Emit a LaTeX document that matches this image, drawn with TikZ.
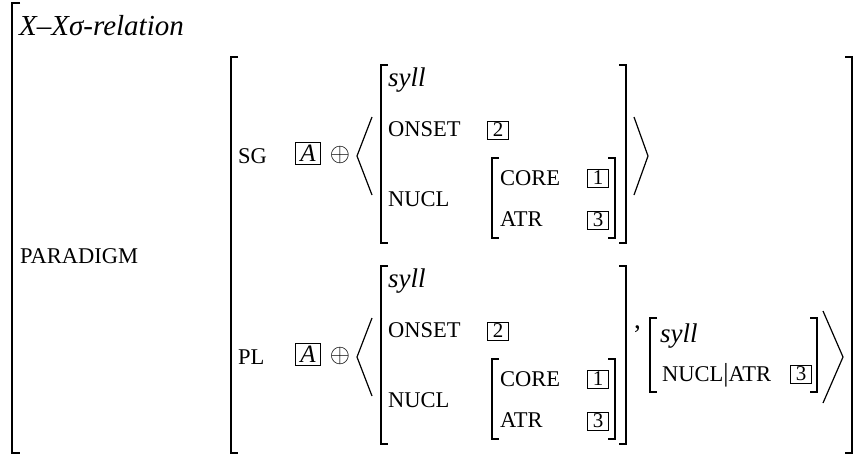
\RequirePackage{fix-cm}
\documentclass[tikz,border=0pt]{standalone}
\usepackage{fontspec}
\setmainfont{Liberation Serif}
\begin{document}
\begin{tikzpicture}[x=1pt,y=-1pt,
    lbl/.style={anchor=base west,inner sep=0},
    feat/.style={lbl,font=\fontsize{22.5}{22.5}\selectfont},
    typ/.style={lbl,font=\fontsize{27}{27}\selectfont\itshape},
    tag/.style={draw,line width=.6,inner sep=0,minimum width=21,minimum height=18,font=\fontsize{21}{21}\selectfont},
    brk/.style={line width=1.5},
    ang/.style={line width=1.2,line join=miter}]
    \useasboundingbox (0,0) rectangle (856,456);
    % outer matrix
    \foreach \x/\ya/\yb/\s in {12/3/453/8,231/57/453/7,852/57/453/-7} {
        \draw[brk,line width=1.8] (\x+\s,\ya) -- (\x,\ya) -- (\x,\yb) -- (\x+\s,\yb);
    }
    \node[typ,font=\fontsize{29}{29}\selectfont\itshape] (title) at (19,35) {X–Xσ-relation};
    \node[feat] (paradigm) at (20,263) {PARADIGM};

    % sg and pl rows
    \foreach \lab/\dy in {SG/0,PL/201} {
        \begin{scope}[shift={(0,\dy)}]
            \node[feat] (\lab) at (238,163) {\lab};
            \node[tag,minimum width=25,minimum height=22,font=\fontsize{25}{25}\selectfont\itshape] (a\lab) at (308,153) {A};
            \node[inner sep=0,font=\fontsize{26}{26}\selectfont] (plus\lab) at (340,155) {$\oplus$};
            \draw[ang] (372,117) -- (357,156) -- (372,195); % langle
            \foreach \x/\ya/\yb/\s in {381/65/243/7,626/65/243/-7,492/158/238/7,615/158/238/-7} {
                \draw[brk] (\x+\s,\ya) -- (\x,\ya) -- (\x,\yb) -- (\x+\s,\yb);
            }
            \node[typ] (syll\lab) at (388,86) {syll};
            \node[feat] (onset\lab) at (388,136) {ONSET};
            \node[tag] (two\lab) at (498,130) {2};
            \node[feat] (nucl\lab) at (388,206) {NUCL};
            \node[feat] (core\lab) at (500,185) {CORE};
            \node[tag] (one\lab) at (598,178) {1};
            \node[feat] (atr\lab) at (500,226) {ATR};
            \node[tag] (three\lab) at (598,220) {3};
        \end{scope}
    }
    \draw[ang] (634,117) -- (648,156) -- (634,195); % rangle sg

    % second element of pl list
    \node[lbl,font=\fontsize{27}{27}\selectfont] (comma) at (634,328) {,};
    \foreach \x/\ya/\yb/\s in {650/318/392/7,817/318/392/-7} {
        \draw[brk] (\x+\s,\ya) -- (\x,\ya) -- (\x,\yb) -- (\x+\s,\yb);
    }
    \node[typ] (syll) at (660,342) {syll};
    \node[feat] (path) at (662,381) {NUCL{\fontsize{26}{26}\selectfont|}ATR};
    \node[tag] (three) at (801,374) {3};
    \draw[ang] (823,311) -- (843,357) -- (823,403); % rangle pl
\end{tikzpicture}
\end{document}
